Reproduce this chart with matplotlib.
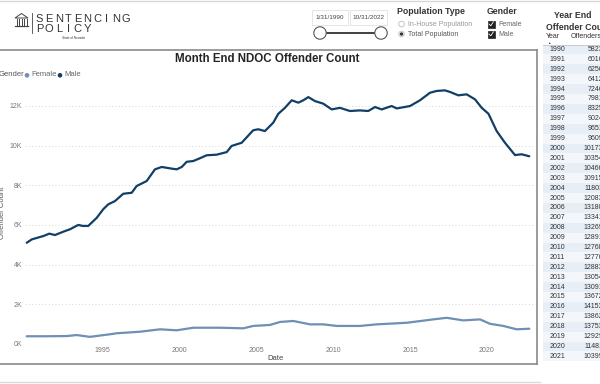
import numpy as np
import matplotlib
matplotlib.use('Agg')
import matplotlib.pyplot as plt
from matplotlib.patches import Rectangle, Circle, Polygon

plt.rcParams['font.family'] = ['Liberation Sans', 'DejaVu Sans']

# month end counts (decimal year, offenders)
male_year = [1990.11, 1990.44, 1991.19, 1991.58, 1991.95, 1992.49, 1992.92, 1993.46,
             1993.75, 1994.11, 1994.66, 1995.08, 1995.41, 1995.84, 1996.38, 1996.93,
             1997.25, 1997.90, 1998.44, 1998.88, 1999.42, 1999.85, 2000.18, 2000.50,
             2000.93, 2001.36, 2001.80, 2002.45, 2003.10, 2003.42, 2004.07, 2004.82,
             2005.15, 2005.58, 2006.12, 2006.45, 2006.88, 2007.32, 2007.75, 2008.07,
             2008.40, 2008.83, 2009.37, 2009.92, 2010.45, 2011.10, 2011.75, 2012.29,
             2012.73, 2013.16, 2013.81, 2014.14, 2015.00, 2015.65, 2016.30, 2016.73,
             2017.27, 2017.60, 2018.14, 2018.68, 2019.22, 2019.66, 2020.10, 2020.63,
             2021.17, 2021.82, 2022.25, 2022.75]
male_count = [5100, 5270, 5440, 5560, 5490, 5660, 5780, 6000,
              5950, 5950, 6360, 6790, 7040, 7200, 7570, 7620,
              7960, 8210, 8800, 8920, 8850, 8800, 8920, 9180,
              9220, 9360, 9510, 9540, 9670, 9980, 10140, 10770,
              10820, 10730, 11150, 11600, 11900, 12280, 12160, 12280,
              12440, 12240, 12110, 11820, 11900, 11740, 11770, 11740,
              11940, 11820, 11990, 11870, 11990, 12280, 12660, 12750,
              12780, 12700, 12530, 12580, 12330, 11900, 11600, 10730,
              10140, 9520, 9560, 9460]

female_year = [1990.11, 1991.30, 1992.70, 1993.36, 1994.22, 1995.52, 1995.95, 1997.47,
               1998.77, 1999.85, 2000.93, 2002.66, 2004.18, 2004.82, 2005.91, 2006.56,
               2007.42, 2008.51, 2009.37, 2010.24, 2011.75, 2012.84, 2014.79, 2016.51,
               2017.38, 2018.46, 2019.55, 2020.19, 2021.06, 2021.93, 2022.75]
female_count = [390, 390, 400, 450, 360, 490, 540, 620,
                740, 690, 820, 820, 790, 910, 960, 1110,
                1160, 990, 990, 910, 910, 990, 1070, 1240,
                1320, 1190, 1240, 1020, 910, 740, 770]

# year end table
table_years = list(range(1990, 2022))
table_offenders = [5823, 6016, 6256, 6412, 7246, 7981, 8325, 9024, 9651, 9609,
                   10173, 10354, 10466, 10915, 11803, 12083, 13180, 13341, 13269, 12891,
                   12768, 12776, 12883, 13054, 13091, 13672, 14153, 13862, 13753, 12929,
                   11481, 10399]

y_ticks = [0, 2000, 4000, 6000, 8000, 10000, 12000]
y_labels = ['0K', '2K', '4K', '6K', '8K', '10K', '12K']
x_ticks = [1995, 2000, 2005, 2010, 2015, 2020]

MALE = '#123f66'
FEMALE = '#6f8fb4'

fig = plt.figure(figsize=(6, 3.84), dpi=100)
fig.patch.set_facecolor('white')

# overlay in pixel coordinates for the dashboard furniture
ov = fig.add_axes([0, 0, 1, 1], zorder=0)
ov.set_xlim(0, 600)
ov.set_ylim(384, 0)
ov.axis('off')

# frame lines
ov.plot([0, 600], [1, 1], color='#d8d8d8', lw=1)
ov.plot([0, 537], [49.5, 49.5], color='#8a8a8a', lw=1.2)
ov.plot([536.5, 536.5], [49.5, 363.5], color='#8a8a8a', lw=1.2)
ov.plot([0, 537], [363.5, 363.5], color='#8a8a8a', lw=1.2)
ov.plot([0, 540], [382, 382], color='#dadada', lw=1)

# logo
ov.add_patch(Polygon([[15, 18], [21.5, 13.5], [28, 18]], closed=True, fc='none', ec='#444', lw=0.7))
for cx in [16.5, 19, 21.5, 24, 26.5]:
    ov.plot([cx, cx], [19, 25], color='#444', lw=0.7)
ov.plot([15, 28], [26, 26], color='#444', lw=0.9)
ov.plot([31.5, 31.5], [13, 33], color='#444', lw=0.6)
for i, ch in enumerate('SENTENCING'):
    ov.text(39.5 + i * 9.6, 18.5, ch, fontsize=8, color='#333', ha='center', va='center')
for i, ch in enumerate('POLICY'):
    ov.text(39.5 + i * 9.6, 29, ch, fontsize=8, color='#333', ha='center', va='center')
ov.text(73, 38, 'State of Nevada', fontsize=2.3, style='italic', color='#333', ha='center', va='center')

# date slicer
ov.add_patch(Rectangle((312, 10), 36, 15, fc='white', ec='#e0e0e0', lw=0.6))
ov.add_patch(Rectangle((350, 10), 37, 15, fc='white', ec='#e0e0e0', lw=0.6))
ov.text(330, 17.5, '1/31/1990', fontsize=4.6, color='#444', ha='center', va='center')
ov.text(368.5, 17.5, '10/31/2022', fontsize=4.6, color='#444', ha='center', va='center')
ov.plot([320, 381], [33, 33], color='#333', lw=1.3)
ov.add_patch(Circle((320, 33), 6.2, fc='white', ec='#555', lw=0.8, zorder=3))
ov.add_patch(Circle((381, 33), 6.2, fc='white', ec='#555', lw=0.8, zorder=3))

# population type
ov.text(397, 12, 'Population Type', fontsize=6.3, fontweight='bold', color='#333', ha='left', va='center')
ov.add_patch(Circle((401.5, 24), 2.8, fc='white', ec='#bbb', lw=0.6))
ov.text(407.5, 24, 'In-House Population', fontsize=5, color='#999', ha='left', va='center')
ov.add_patch(Circle((401.5, 34), 2.8, fc='white', ec='#bbb', lw=0.6))
ov.add_patch(Circle((401.5, 34), 1.7, fc='#333', ec='none'))
ov.text(407.5, 34, 'Total Population', fontsize=5, color='#555', ha='left', va='center')

# gender checkboxes
ov.text(487, 12, 'Gender', fontsize=6.3, fontweight='bold', color='#333', ha='left', va='center')
for cy, lab in [(24, 'Female'), (34, 'Male')]:
    ov.add_patch(Rectangle((487.5, cy - 3.5), 7, 7, fc='#222', ec='#222', lw=0.5))
    ov.plot([489, 490.8, 493.3], [cy, cy + 1.8, cy - 2], color='white', lw=0.6)
    ov.text(498, cy, lab, fontsize=5, color='#666', ha='left', va='center')

# year end table (cut off by the right edge, as in the dashboard)
ov.text(573, 15, 'Year End', fontsize=6.3, fontweight='bold', color='#333', ha='center', va='center')
ov.text(546, 27, 'Offender Count', fontsize=6.3, fontweight='bold', color='#333', ha='left', va='center')
ov.text(546, 36, 'Year', fontsize=5, color='#333', ha='left', va='center')
ov.text(571, 36, 'Offenders', fontsize=5, color='#333', ha='left', va='center')
ov.text(549, 42.5, '\u25b2', fontsize=2.5, color='#333', ha='center', va='center')
row_h = 9.9
for i, (yr, n) in enumerate(zip(table_years, table_offenders)):
    cy = 49.5 + i * row_h
    fc = '#e8eef6' if i % 2 == 0 else '#f3f6fa'
    ov.add_patch(Rectangle((543, cy - row_h / 2), 60, row_h, fc=fc, ec='none'))
    ov.text(557, cy, str(yr), fontsize=5, color='#333', ha='center', va='center')
    ov.text(603, cy, str(n), fontsize=5, color='#333', ha='right', va='center')
ov.plot([543, 600], [44.5, 44.5], color='#bbb', lw=0.5)

# the line chart
ax = fig.add_axes([25 / 600, 1 - 344 / 384, 508 / 600, 258 / 384], zorder=2)
ax.patch.set_alpha(0)
ax.plot(female_year, female_count, color=FEMALE, lw=1.6, solid_capstyle='round')
ax.plot(male_year, male_count, color=MALE, lw=1.6, solid_capstyle='round')
ax.set_xlim(1990, 2022.99)
ax.set_ylim(0, 13000)
ax.set_yticks(y_ticks)
ax.set_yticklabels(y_labels)
ax.set_xticks(x_ticks)
ax.tick_params(length=0, labelsize=5, labelcolor='#777', pad=2)
ax.grid(axis='y', linestyle=(0, (1, 3)), color='#c8c8c8', lw=0.6)
ax.grid(axis='x', visible=False)
for s in ax.spines.values():
    s.set_visible(False)

ov.text(267, 58.5, 'Month End NDOC Offender Count', fontsize=8.3, fontweight='bold',
        color='#252423', ha='center', va='center')
ov.text(275, 358, 'Date', fontsize=5.5, color='#444', ha='center', va='center')
ov.text(2.5, 213, 'Offender Count', fontsize=5.5, color='#555', rotation=90, ha='center', va='center')

# legend
ov.text(-1, 75, 'Gender', fontsize=5.5, color='#555', ha='left', va='center')
ov.add_patch(Circle((27, 75.3), 2.3, fc=FEMALE, ec='none'))
ov.text(31, 75, 'Female', fontsize=5.5, color='#666', ha='left', va='center')
ov.add_patch(Circle((60, 75.3), 2.3, fc=MALE, ec='none'))
ov.text(64, 75, 'Male', fontsize=5.5, color='#666', ha='left', va='center')

fig.savefig('out.png', dpi=100)
